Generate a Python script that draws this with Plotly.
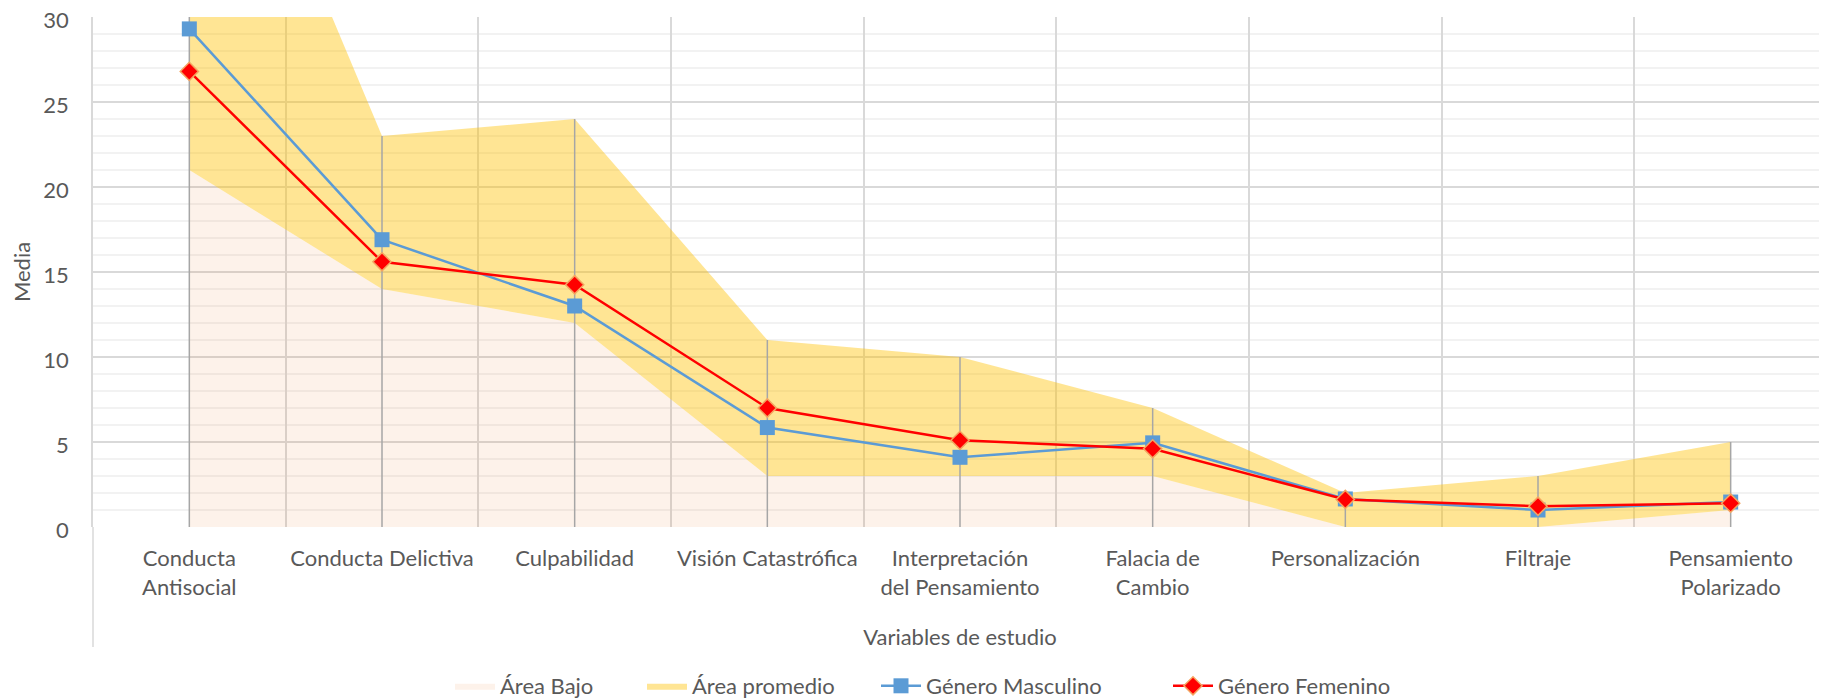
import plotly.graph_objects as go

# ===== data =====
categories = [
    "Conducta<br>Antisocial", "Conducta Delictiva", "Culpabilidad",
    "Visión Catastrófica", "Interpretación<br>del Pensamiento", "Falacia de<br>Cambio",
    "Personalización", "Filtraje", "Pensamiento<br>Polarizado",
]
area_bajo = [21, 14, 12, 3, 3, 3, 0, 0, 1]
area_promedio = [29, 9, 12, 8, 7, 4, 2, 3, 4]  # stacked on top of area_bajo
masculino = [29.3, 16.9, 13.0, 5.85, 4.1, 4.95, 1.65, 1.0, 1.47]
femenino = [26.8, 15.6, 14.25, 7.0, 5.1, 4.6, 1.62, 1.22, 1.4]

# ===== style =====
font_family = "Lato, Calibri, sans-serif"
font_size = 22
text_color = "#595959"
grid_major = "#D9D9D9"
grid_minor = "#F2F2F2"

# page body has an 8px margin, so the figure is a bit smaller than the window
W, H = 1819, 692
L, T, B = 85, 9, 173
plot_h = H - T - B

fig = go.Figure()

# stacked areas
fig.add_trace(go.Scatter(
    x=categories, y=area_bajo, name="Área Bajo",
    mode="lines", stackgroup="area", line=dict(width=0),
    fillcolor="rgba(237,125,49,0.1)", hoverinfo="skip",
    legend="legend",
))
fig.add_trace(go.Scatter(
    x=categories, y=area_promedio, name="Área promedio",
    mode="lines", stackgroup="area", line=dict(width=0),
    fillcolor="rgba(255,192,0,0.42)", hoverinfo="skip",
    legend="legend2",
))

# drop lines from top of the stacked area down to the axis
drop_x, drop_y = [], []
for cat, lo, mid in zip(categories, area_bajo, area_promedio):
    drop_x += [cat, cat, None]
    drop_y += [0, lo + mid, None]
fig.add_trace(go.Scatter(
    x=drop_x, y=drop_y, mode="lines",
    line=dict(color="#A6A6A6", width=1.5),
    showlegend=False, hoverinfo="skip",
))

# series
fig.add_trace(go.Scatter(
    x=categories, y=masculino, name="Género Masculino",
    mode="lines+markers",
    line=dict(color="#5B9BD5", width=2.5),
    marker=dict(symbol="square", size=15, color="#5B9BD5", line=dict(width=0)),
    legend="legend3",
))
fig.add_trace(go.Scatter(
    x=categories, y=femenino, name="Género Femenino",
    mode="lines+markers",
    line=dict(color="#FF0000", width=2.5),
    marker=dict(symbol="diamond", size=14, color="#FF0000",
                line=dict(color="#F4A460", width=1.5)),
    legend="legend4",
))


def legend_at(px_left):
    # px_left: left edge of the legend entry in window pixels
    return dict(
        orientation="h", x=(px_left - 8 - L) / (W - L), xanchor="left",
        y=-(686 - 8 - T - plot_h) / plot_h, yanchor="middle",
        font=dict(size=font_size, color=text_color), bgcolor="rgba(0,0,0,0)",
        itemwidth=40,
    )


fig.update_layout(
    width=W, height=H,
    margin=dict(l=L, r=0, t=T, b=B, autoexpand=False),
    paper_bgcolor="white", plot_bgcolor="white",
    font=dict(family=font_family, size=font_size, color=text_color),
    showlegend=True,
    legend=legend_at(450),
    legend2=legend_at(642),
    legend3=legend_at(876),
    legend4=legend_at(1168),
    xaxis=dict(
        type="category", range=[-0.5, 8.5], automargin=False,
        showgrid=True, gridcolor=grid_major, gridwidth=1.5,
        tickson="boundaries", ticks="", ticklabelstandoff=16,
        showline=False, zeroline=False,
        title=dict(text="Variables de estudio", standoff=31,
                   font=dict(size=font_size, color=text_color)),
        tickfont=dict(size=font_size, color=text_color),
    ),
    yaxis=dict(
        range=[0, 30], dtick=5, tick0=0, automargin=False,
        showgrid=True, gridcolor=grid_major, gridwidth=1.5,
        minor=dict(dtick=1, showgrid=True, gridcolor=grid_minor, gridwidth=1.5),
        showline=True, linecolor=grid_major, linewidth=1.5,
        zeroline=False, ticks="", ticklabelstandoff=18,
        ticklabeloverflow="allow", ticklabelshift=3,
        title=dict(text="Media", standoff=14, font=dict(size=font_size, color=text_color)),
        tickfont=dict(size=font_size, color=text_color),
    ),
)

# left border of the category label band
fig.add_shape(type="line", xref="paper", yref="paper",
              x0=0, x1=0, y0=0, y1=-(647 - 527) / plot_h,
              line=dict(color=grid_major, width=1.5))

fig.write_html("out.html")
